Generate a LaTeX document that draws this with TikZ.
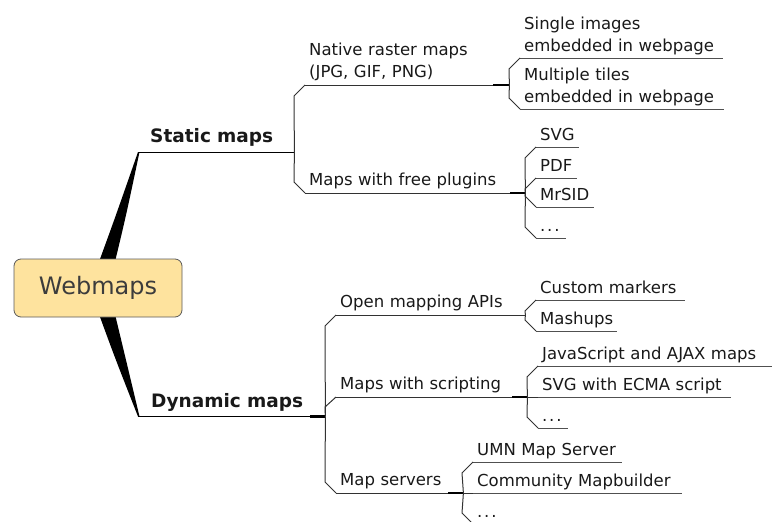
\documentclass[tikz,border=0pt]{standalone}
\usepackage{fontspec}
\setmainfont{DejaVu Sans}
\usetikzlibrary{calc}
\definecolor{boxfill}{RGB}{254,227,158}
\definecolor{boxline}{RGB}{90,90,90}
\definecolor{linec}{RGB}{50,50,50}
\definecolor{leafc}{RGB}{80,80,80}
\definecolor{txtc}{RGB}{25,25,25}
\definecolor{hubtxt}{RGB}{60,60,60}
\newcommand\lvlone{\fontsize{18.5}{22}\selectfont\bfseries}
\newcommand\lvltwo{\fontsize{16.5}{22}\selectfont}
\newcommand\dpone{\rule[-9pt]{0pt}{0pt}}
\newcommand\dptwo{\rule[-7pt]{0pt}{0pt}}
\newcommand\dpthree{\rule[-6pt]{0pt}{0pt}}
\newcommand\mydots{.\kern1.8pt.\kern1.8pt.}
\begin{document}
\begin{tikzpicture}[x=1pt,y=-1pt,
  topone/.style={anchor=south west, inner xsep=0pt, inner ysep=0pt, align=left, text=txtc, font=\lvlone},
  toptwo/.style={anchor=south west, inner xsep=4pt, inner ysep=0pt, align=left, text=txtc, font=\lvltwo},
  mainline/.style={draw=black, line width=1pt},
  midline/.style={draw=linec, line width=1pt},
  leafline/.style={draw=leafc, line width=1pt},
  conn/.style={draw=linec, line width=1pt},
  thickseg/.style={draw=black, line width=2.5pt},
  hubbox/.style={draw=boxline, line width=0.8pt, fill=boxfill, rounded corners=7pt,
    minimum width=168pt, minimum height=58pt, inner sep=0pt, text=hubtxt,
    font=\fontsize{24}{28}\selectfont}]
\useasboundingbox (0,0) rectangle (772,522);

% level 1
\node[topone, text width=156pt] (static) at (138,152) {\hspace*{12pt}Static maps\dpone};
\node[topone, text width=172pt] (dynamic) at (138,416.5) {\hspace*{13pt}Dynamic maps\dpone};

% level 2
\node[toptwo, text width=180pt] (native) at (305,85) {Native raster maps\\(JPG, GIF, PNG)\dptwo};
\node[toptwo, text width=197pt] (plugins) at (305,193) {Maps with free plugins\dptwo};
\node[toptwo, text width=181pt] (api) at (336,315) {Open mapping APIs\dptwo};
\node[toptwo, text width=168pt] (scripting) at (336,397) {Maps with scripting\dptwo};
\node[toptwo, text width=104pt] (servers) at (336,493) {Map servers\dptwo};

% level 3
\node[toptwo, text width=195pt] (single) at (520,58) {Single images\\embedded in webpage\dpthree};
\node[toptwo, text width=196pt] (multiple) at (520,109) {Multiple tiles\\embedded in webpage\dpthree};
\node[toptwo, text width=35pt] (svg) at (536,147) {SVG\dpthree};
\node[toptwo, text width=33pt] (pdf) at (536,178) {PDF\dpthree};
\node[toptwo, text width=50pt] (mrsid) at (536,207) {MrSID\dpthree};
\node[toptwo, text width=22pt] (dotsa) at (536,238) {\mydots\dpthree};
\node[toptwo, text width=141pt] (custom) at (536,300) {Custom markers\dpthree};
\node[toptwo, text width=73pt] (mashups) at (536,331) {Mashups\dpthree};
\node[toptwo, text width=240pt] (js) at (538,366) {JavaScript and AJAX maps\dpthree};
\node[toptwo, text width=185pt] (ecma) at (538,397) {SVG with ECMA script\dpthree};
\node[toptwo, text width=22pt] (dotsb) at (538,428) {\mydots\dpthree};
\node[toptwo, text width=141pt] (umn) at (473,462) {UMN Map Server\dpthree};
\node[toptwo, text width=201pt] (community) at (473,493) {Community Mapbuilder\dpthree};
\node[toptwo, text width=28pt] (dotsc) at (473,524) {\mydots\dpthree};

% underlines
\foreach \n in {static,dynamic} \draw[mainline] (\n.south west) -- (\n.south east);
\foreach \n in {native,plugins,api,scripting,servers} \draw[midline] (\n.south west) -- (\n.south east);
\foreach \n in {single,multiple,svg,pdf,mrsid,dotsa,custom,mashups,js,ecma,dotsb,umn,community,dotsc}
  \draw[leafline] (\n.south west) -- (\n.south east);

% junctions
\coordinate (jdy) at ($(dynamic.south east)+(15,0)$);
\coordinate (jna) at ($(native.south east)+(16,0)$);
\coordinate (jpl) at ($(plugins.south east)+(15,0)$);
\coordinate (jap) at (api.south east);
\coordinate (jsc) at ($(scripting.south east)+(15,0)$);
\coordinate (jse) at ($(servers.south east)+(15,0)$);

\draw[thickseg] (dynamic.south east) -- (jdy);
\draw[thickseg] (native.south east) -- (jna);
\draw[thickseg] (plugins.south east) -- (jpl);
\draw[thickseg] (scripting.south east) -- (jsc);
\draw[thickseg] (servers.south east) -- (jse);

% connectors: static
\draw[conn] (static.south east) -- ($(native.south west)+(-11,11)$) -- (native.south west);
\draw[conn] (static.south east) -- ($(plugins.south west)+(-11,-11)$) -- (plugins.south west);
% dynamic
\draw[conn] (jdy) -- ($(api.south west)+(-11,11)$) -- (api.south west);
\draw[conn] (jdy) -- ($(scripting.south west)+(-11,10)$) -- (scripting.south west);
\draw[conn] (jdy) -- ($(servers.south west)+(-11,-11)$) -- (servers.south west);
% native
\draw[conn] (jna) -- ($(single.south west)+(-11,11)$) -- (single.south west);
\draw[conn] (jna) -- ($(multiple.south west)+(-11,-11)$) -- (multiple.south west);
% plugins
\draw[conn] (jpl) -- ($(svg.south west)+(-11,11)$) -- (svg.south west);
\draw[conn] (jpl) -- ($(pdf.south west)+(-11,11)$) -- (pdf.south west);
\draw[conn] (jpl) -- ($(mrsid.south west)+(-11,-11)$) -- (mrsid.south west);
\draw[conn] (jpl) -- ($(dotsa.south west)+(-11,-11)$) -- (dotsa.south west);
% api
\draw[conn] (jap) -- ($(custom.south west)+(-11,11)$) -- (custom.south west);
\draw[conn] (jap) -- ($(mashups.south west)+(-11,-11)$) -- (mashups.south west);
% scripting
\draw[conn] (jsc) -- ($(js.south west)+(-11,11)$) -- (js.south west);
\draw[conn] (jsc) -- (ecma.south west);
\draw[conn] (jsc) -- ($(dotsb.south west)+(-11,-11)$) -- (dotsb.south west);
% servers
\draw[conn] (jse) -- ($(umn.south west)+(-11,11)$) -- (umn.south west);
\draw[conn] (jse) -- (community.south west);
\draw[conn] (jse) -- ($(dotsc.south west)+(-11,-11)$) -- (dotsc.south west);

% tapered main branches
\coordinate (hub) at (98,288);
\fill[black] ($(hub)+(-2,-18)$) .. controls ($(hub)+(17,-70)$) .. (static.south west)
  -- ($(static.south west)+(1.5,0)$) .. controls ($(hub)+(28,-72)$) .. ($(hub)+(15,-18)$) -- cycle;
\fill[black] ($(hub)+(-2,18)$) .. controls ($(hub)+(17,70)$) .. (dynamic.south west)
  -- ($(dynamic.south west)+(1.5,0)$) .. controls ($(hub)+(28,72)$) .. ($(hub)+(15,18)$) -- cycle;

\node[hubbox] (webmaps) at (hub) {Webmaps};
\end{tikzpicture}
\end{document}
